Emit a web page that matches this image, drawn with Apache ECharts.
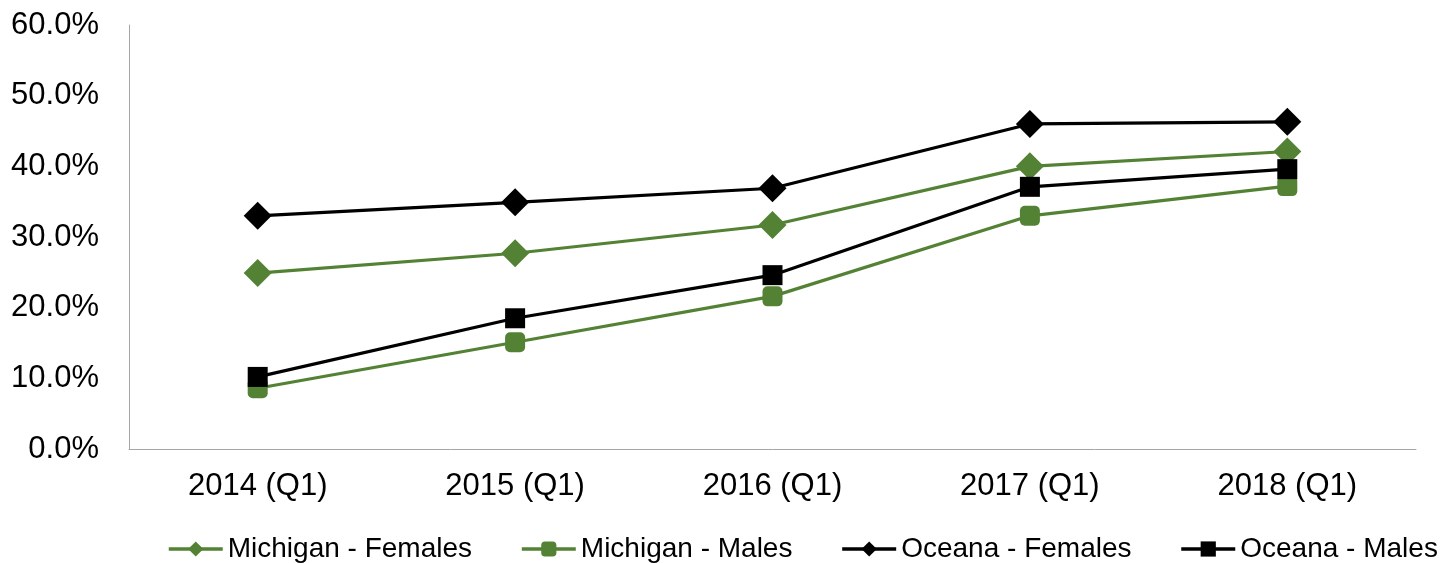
<!DOCTYPE html>
<html>
<head>
<meta charset="utf-8">
<script src="https://cdn.jsdelivr.net/npm/echarts@6/dist/echarts.min.js"></script>
<style>
  html, body { margin: 0; padding: 0; background: #fff; }
  #chart { width: 1453px; height: 563px; }
</style>
</head>
<body>
<div id="chart"></div>
<script>
// categories and values (percent)
const years = ['2014 (Q1)', '2015 (Q1)', '2016 (Q1)', '2017 (Q1)', '2018 (Q1)'];
const michiganFemales = [24.9, 27.7, 31.7, 40.0, 42.1];
const michiganMales = [8.6, 15.1, 21.6, 33.0, 37.2];
const oceanaFemales = [33.0, 34.9, 36.9, 46.0, 46.3];
const oceanaMales = [10.2, 18.5, 24.6, 37.1, 39.6];

const green = '#548235';
const black = '#000000';
const font = "'Liberation Sans', Arial, sans-serif";

function mkSeries(name, data, color, symbol, size) {
  return {
    name: name,
    type: 'line',
    data: data,
    symbol: symbol,
    symbolSize: size,
    lineStyle: { color: color, width: 3.2 },
    itemStyle: { color: color },
    animation: false
  };
}

let chart = echarts.init(document.getElementById('chart'));
let option = {
  backgroundColor: '#fff',
  textStyle: { fontFamily: font },
  grid: { left: 129, right: 37, top: 25, bottom: 114 },
  legend: {
    top: 535,
    left: 167,
    padding: 0,
    itemWidth: 54,
    itemHeight: 19,
    itemGap: 48,
    lineStyle: { width: 3.5 },
    textStyle: { fontSize: 28, color: '#000', fontFamily: font },
    data: ['Michigan - Females', 'Michigan - Males', 'Oceana - Females', 'Oceana - Males']
  },
  xAxis: {
    type: 'category',
    data: years,
    boundaryGap: true,
    axisLine: { lineStyle: { color: '#a6a6a6', width: 1 } },
    axisTick: { show: false },
    axisLabel: { fontSize: 31, color: '#000', margin: 22, fontFamily: font }
  },
  yAxis: {
    type: 'value',
    min: 0,
    max: 60,
    interval: 10,
    axisLine: { show: true, lineStyle: { color: '#a6a6a6', width: 1 } },
    axisTick: { show: false },
    splitLine: { show: false },
    axisLabel: {
      fontSize: 31,
      color: '#000',
      margin: 30,
      fontFamily: font,
      formatter: v => v.toFixed(1) + '%'
    }
  },
  series: [
    mkSeries('Michigan - Females', michiganFemales, green, 'diamond', 28),
    mkSeries('Michigan - Males', michiganMales, green, 'roundRect', 20),
    mkSeries('Oceana - Females', oceanaFemales, black, 'diamond', 28),
    mkSeries('Oceana - Males', oceanaMales, black, 'rect', 20)
  ]
};
chart.setOption(option);
</script>
</body>
</html>
